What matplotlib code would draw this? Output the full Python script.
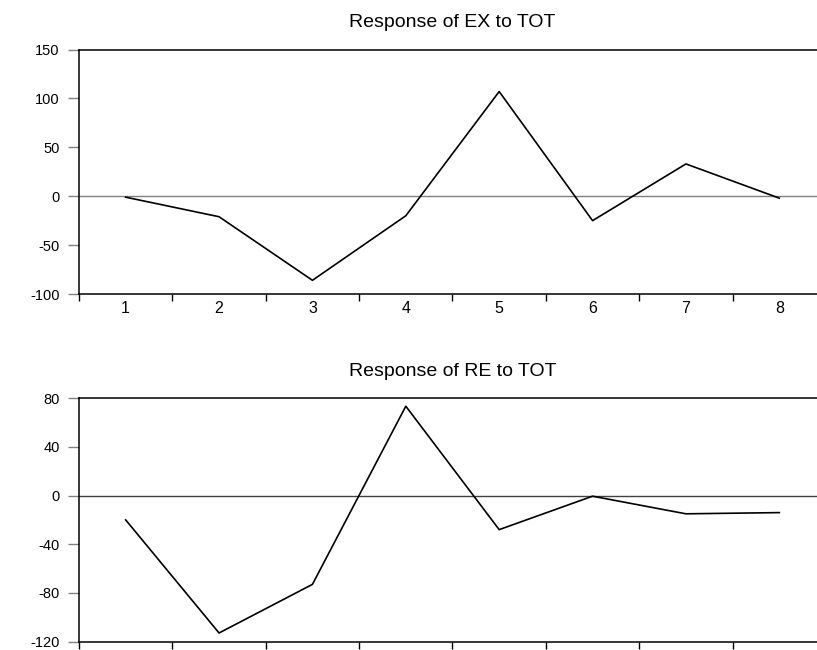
import matplotlib

matplotlib.use("Agg")
import matplotlib.pyplot as plt

plt.rcParams["font.family"] = ["Liberation Sans", "DejaVu Sans"]

periods = [1, 2, 3, 4, 5, 6, 7, 8]
ex_response = [-1, -21, -86, -20, 107, -25, 33, -2]
re_response = [-20, -113, -73, 73.5, -28, -0.5, -15, -14]

W, H = 817, 650


def _panel(fig, rect, values, title, yticks, ylim, zero_color, show_xlabels):
    ax = fig.add_axes(rect)
    ax.plot(periods, values, color="black", lw=1.2)
    ax.axhline(0, color=zero_color, lw=1.0, zorder=1)
    ax.set_xlim(0.5, 8.5)
    ax.set_ylim(*ylim)
    ax.set_yticks(yticks)
    ax.set_yticklabels([str(v) for v in yticks])
    ax.set_xticks([p + 0.5 for p in [0] + periods])
    ax.set_xticklabels([])
    ax.set_xticks(periods, minor=True)
    if show_xlabels:
        ax.set_xticklabels([str(p) for p in periods], minor=True)
    ax.tick_params(axis="x", which="major", direction="out", length=5, width=1, color="black")
    ax.tick_params(axis="x", which="minor", length=0, pad=5, labelsize=11.5)
    ax.tick_params(axis="y", direction="out", length=8, width=1, color="#808080", pad=6, labelsize=10.5)
    ax.spines["right"].set_visible(False)
    for side in ("left", "bottom", "top"):
        ax.spines[side].set_linewidth(1.1)
    ax.set_title(title, fontsize=14, pad=16)
    return ax


fig = plt.figure(figsize=(W / 100, H / 100), dpi=100)
_panel(
    fig,
    [79 / W, (H - 294) / H, 747 / W, 244.5 / H],
    ex_response,
    "Response of EX to TOT",
    [-100, -50, 0, 50, 100, 150],
    (-100, 150),
    "#808080",
    True,
)
_panel(
    fig,
    [79 / W, (H - 641.5) / H, 747 / W, 243.2 / H],
    re_response,
    "Response of RE to TOT",
    [-120, -80, -40, 0, 40, 80],
    (-120, 80),
    "#404040",
    False,
)
fig.savefig("out.png", dpi=100)
